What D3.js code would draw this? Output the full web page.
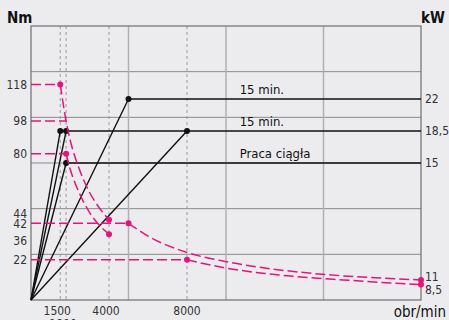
<!DOCTYPE html>
<html>
<head>
<meta charset="utf-8">
<script src="https://cdn.jsdelivr.net/npm/d3@7"></script>
<style>
  html, body { margin: 0; padding: 0; background: #ececee; overflow: hidden; }
  text { font-family: "DejaVu Sans Condensed", "DejaVu Sans", Roboto, sans-serif; }
</style>
</head>
<body>
<div id="chart"></div>
<script>
// rpm marks with dotted guides and bottom labels
const rpmTicks = [1500, 1800, 4000, 8000];
const rpmLabels = ['1500', '1800', '4000', '8000'];

// left axis torque labels (Nm)
const nmTicks = [118, 98, 80, 44, 42, 36, 22];

// right axis power labels (kW)
const kwTicks = [22, 18.5, 15];
const kwLabels = ['22', '18,5', '15'];

// torque at top speed, shown on the right
const endTorque = [11, 8.5];
const endLabels = ['11', '8,5'];

// power lines: rise from origin to the corner, then flat
const cornerRpm = [1500, 1800, 1800, 5000, 8000];
const cornerKw = [18.5, 18.5, 15, 22, 18.5];
const flatKw = [22, 18.5, 15];
const flatFrom = [5000, 1500, 1800];
const flatText = ['15 min.', '15 min.', 'Praca ciągła'];

// flat torque segments (dashed), from 0 rpm
const torqueNm = [118, 98, 80, 42, 22];
const torqueTo = [1500, 1800, 1800, 5000, 8000];

// torque fall-off curves: [rpm, Nm]
const curveA = [[1500, 118], [1800, 98], [2000, 88], [2500, 71], [3000, 59], [3500, 50.5], [4000, 44]];
const curveB = [[1800, 80], [2000, 72], [2500, 58], [3000, 48], [3500, 41], [4000, 36]];
const curveC = [[5000, 42], [6000, 35], [8000, 26], [10000, 21], [12000, 17.5], [14000, 15], [16000, 13.2], [18000, 12], [20000, 11]];
const curveD = [[8000, 22], [10000, 17.5], [12000, 14.5], [14000, 12.5], [16000, 11], [18000, 9.6], [20000, 8.5]];

const W = 449, H = 320;
const margin = { left: 31, right: 421, top: 26, bottom: 300 };
const pink = '#e5137c';

const x = d3.scaleLinear().domain([0, 20000]).range([margin.left, margin.right]);
const yNm = d3.scaleLinear().domain([0, 150]).range([margin.bottom, margin.top]);
const yKw = d3.scaleLinear().domain([0, 30]).range([margin.bottom, margin.top]);

const svg = d3.select('#chart').append('svg')
  .attr('width', W)
  .attr('height', H);

// grid
svg.append('g')
  .selectAll('line')
  .data(d3.range(25, 150, 25))
  .join('line')
  .attr('x1', margin.left).attr('x2', margin.right)
  .attr('y1', d => yNm(d)).attr('y2', d => yNm(d))
  .attr('stroke', '#8a8a8a').attr('stroke-width', 1);

svg.append('g')
  .selectAll('line')
  .data([5000, 10000, 15000])
  .join('line')
  .attr('x1', d => x(d)).attr('x2', d => x(d))
  .attr('y1', margin.top).attr('y2', margin.bottom)
  .attr('stroke', '#b0b0b2').attr('stroke-width', 1.5);

// dotted rpm guides
svg.append('g')
  .selectAll('line')
  .data(rpmTicks)
  .join('line')
  .attr('x1', d => x(d)).attr('x2', d => x(d))
  .attr('y1', margin.top).attr('y2', margin.bottom)
  .attr('stroke', '#9a9a9a').attr('stroke-width', 1)
  .attr('stroke-dasharray', '3,3');

// frame
svg.append('rect')
  .attr('x', margin.left).attr('y', margin.top)
  .attr('width', margin.right - margin.left).attr('height', margin.bottom - margin.top)
  .attr('fill', 'none').attr('stroke', '#6e6e6e').attr('stroke-width', 1.2);

// power lines
const black = svg.append('g');
black.selectAll('.rise')
  .data(cornerRpm)
  .join('line')
  .attr('class', 'rise')
  .attr('x1', x(0)).attr('y1', yKw(0))
  .attr('x2', d => x(d)).attr('y2', (d, i) => yKw(cornerKw[i]))
  .attr('stroke', '#111').attr('stroke-width', 1.4);

black.selectAll('.flat')
  .data(flatKw)
  .join('line')
  .attr('class', 'flat')
  .attr('x1', (d, i) => x(flatFrom[i])).attr('x2', x(20000))
  .attr('y1', d => yKw(d)).attr('y2', d => yKw(d))
  .attr('stroke', '#111').attr('stroke-width', 1.4);

black.selectAll('circle')
  .data(cornerRpm)
  .join('circle')
  .attr('cx', d => x(d)).attr('cy', (d, i) => yKw(cornerKw[i]))
  .attr('r', 3).attr('fill', '#111');

black.selectAll('text')
  .data(flatText)
  .join('text')
  .attr('x', x(10700))
  .attr('y', (d, i) => yKw(flatKw[i]) - 5)
  .attr('font-size', 13)
  .attr('fill', '#111')
  .text(d => d);

// torque lines
const tq = svg.append('g');
tq.selectAll('line')
  .data(torqueNm)
  .join('line')
  .attr('x1', x(0)).attr('x2', (d, i) => x(torqueTo[i]))
  .attr('y1', d => yNm(d)).attr('y2', d => yNm(d))
  .attr('stroke', pink).attr('stroke-width', 1.5)
  .attr('stroke-dasharray', '10,4');

const line = d3.line()
  .x(d => x(d[0]))
  .y(d => yNm(d[1]))
  .curve(d3.curveMonotoneX);

tq.selectAll('path')
  .data([curveA, curveB, curveC, curveD])
  .join('path')
  .attr('d', line)
  .attr('fill', 'none')
  .attr('stroke', pink).attr('stroke-width', 1.5)
  .attr('stroke-dasharray', '10,4');

const pinkDots = [curveA, curveB, curveC, curveD].flatMap(c => [c[0], c[c.length - 1]]);
tq.selectAll('circle')
  .data(pinkDots)
  .join('circle')
  .attr('cx', d => x(d[0])).attr('cy', d => yNm(d[1]))
  .attr('r', 3).attr('fill', pink);

// axis labels
const nmNudge = { 44: -6, 36: 6 };
svg.append('g')
  .selectAll('text')
  .data(nmTicks)
  .join('text')
  .attr('x', 27)
  .attr('y', d => yNm(d) + (nmNudge[d] || 0))
  .attr('dy', '0.36em')
  .attr('text-anchor', 'end')
  .attr('font-size', 12)
  .attr('fill', '#333')
  .text(d => d);

svg.append('g')
  .selectAll('text')
  .data(kwTicks)
  .join('text')
  .attr('x', 425)
  .attr('y', d => yKw(d))
  .attr('dy', '0.36em')
  .attr('font-size', 12)
  .attr('fill', '#333')
  .text((d, i) => kwLabels[i]);

const endNudge = [-3, 5];
svg.append('g')
  .selectAll('text')
  .data(endTorque)
  .join('text')
  .attr('x', 425)
  .attr('y', (d, i) => yNm(d) + endNudge[i])
  .attr('dy', '0.36em')
  .attr('font-size', 12)
  .attr('fill', '#333')
  .text((d, i) => endLabels[i]);

// rpm labels, 1800 sits on a second row (cut off at the bottom, as in the source)
svg.append('g')
  .selectAll('text')
  .data(rpmTicks)
  .join('text')
  .attr('x', d => x(d) - (d < 5000 ? 3 : 0))
  .attr('y', d => d === 1800 ? 328 : 315)
  .attr('text-anchor', 'middle')
  .attr('font-size', 12)
  .attr('fill', '#333')
  .text((d, i) => rpmLabels[i]);

// units
svg.append('text')
  .attr('x', 7).attr('y', 23)
  .attr('font-size', 15).attr('font-weight', 'bold').attr('fill', '#111')
  .text('Nm');
svg.append('text')
  .attr('x', 421).attr('y', 23)
  .attr('font-size', 15).attr('font-weight', 'bold').attr('fill', '#111')
  .text('kW');
svg.append('text')
  .attr('x', 446).attr('y', 317)
  .attr('text-anchor', 'end')
  .attr('font-size', 15).attr('fill', '#111')
  .text('obr/min');
</script>
</body>
</html>
